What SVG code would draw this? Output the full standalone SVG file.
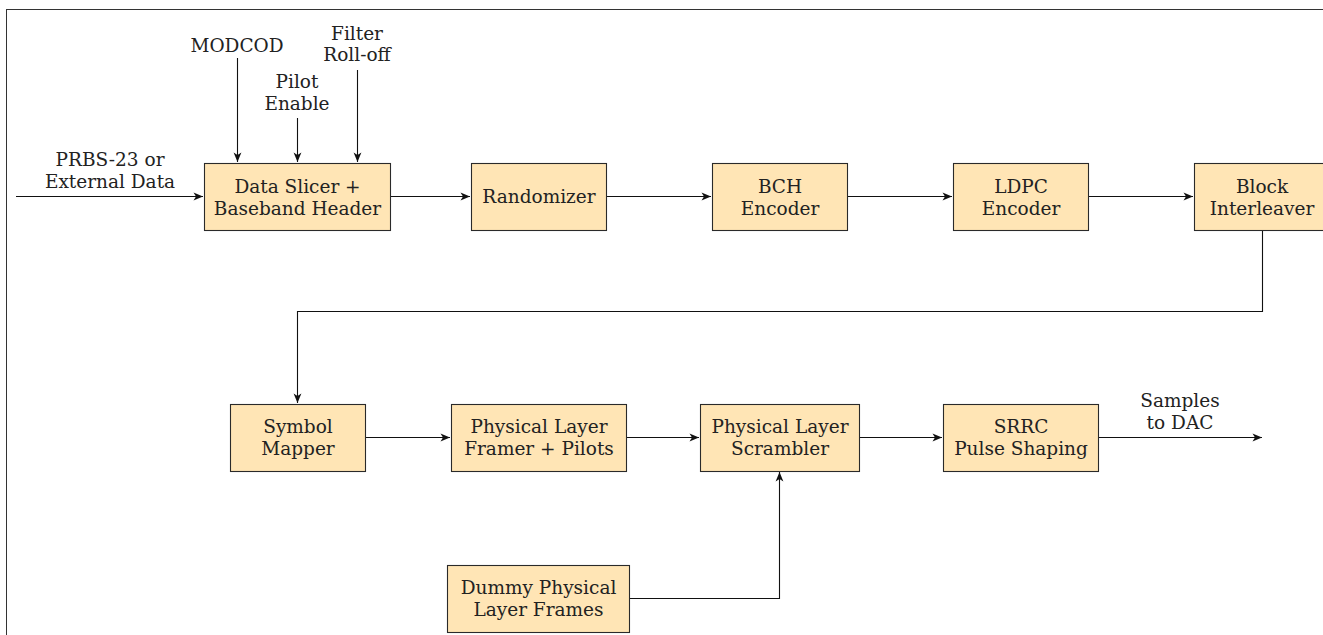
<svg xmlns="http://www.w3.org/2000/svg" width="1323" height="635" viewBox="0 0 1323 635">
<style>
.box{fill:#FFE5B5;stroke:#2a2a2a;stroke-width:1.1}
.t{font-family:"DejaVu Serif","Liberation Serif",serif;font-size:18.5px;fill:#222;text-anchor:middle}
.c{fill:none;stroke:#111;stroke-width:1.1}
</style>
<defs>
<marker id="ah" markerUnits="userSpaceOnUse" markerWidth="12" markerHeight="10" viewBox="-10 -5 12 10" refX="0" refY="0" orient="auto">
<path d="M-9.5,-3.9 L0,0 L-9.5,3.9 L-7,0 z" fill="#111"/>
</marker>
</defs>
<rect x="6.5" y="9.5" width="1330" height="640" fill="#fff" stroke="#333" stroke-width="1"/>
<g id="connectors">
<path class="c" d="M16,196.5 H203" marker-end="url(#ah)"/>
<path class="c" d="M237.5,58 V162" marker-end="url(#ah)"/>
<path class="c" d="M297.5,118 V162" marker-end="url(#ah)"/>
<path class="c" d="M357.5,70 V162" marker-end="url(#ah)"/>
<path class="c" d="M390,196.5 H470" marker-end="url(#ah)"/>
<path class="c" d="M606,196.5 H711" marker-end="url(#ah)"/>
<path class="c" d="M847,196.5 H952" marker-end="url(#ah)"/>
<path class="c" d="M1088,196.5 H1193" marker-end="url(#ah)"/>
<path class="c" d="M1262.5,230 V311.5 H297.5 V403" marker-end="url(#ah)"/>
<path class="c" d="M365,437.5 H450" marker-end="url(#ah)"/>
<path class="c" d="M626,437.5 H699" marker-end="url(#ah)"/>
<path class="c" d="M859,437.5 H942" marker-end="url(#ah)"/>
<path class="c" d="M1098,437.5 H1262" marker-end="url(#ah)"/>
<path class="c" d="M629,598.5 H779.5 V472" marker-end="url(#ah)"/>
</g>
<g id="labels">
<text class="t" x="110" y="166">PRBS-23 or</text>
<text class="t" x="110" y="188">External Data</text>
<text class="t" x="237" y="52">MODCOD</text>
<text class="t" x="297" y="88">Pilot</text>
<text class="t" x="297" y="110">Enable</text>
<text class="t" x="357" y="40">Filter</text>
<text class="t" x="357" y="61">Roll-off</text>
<text class="t" x="1180" y="407">Samples</text>
<text class="t" x="1180" y="429">to DAC</text>
</g>
<g id="n-slicer">
<rect class="box" x="204.5" y="163.5" width="186" height="67"/>
<text class="t" x="297.5" y="192.5">Data Slicer +</text>
<text class="t" x="297.5" y="215">Baseband Header</text>
</g>
<g id="n-randomizer">
<rect class="box" x="471.5" y="163.5" width="135" height="67"/>
<text class="t" x="539" y="203">Randomizer</text>
</g>
<g id="n-bch">
<rect class="box" x="712.5" y="163.5" width="135" height="67"/>
<text class="t" x="780" y="192.5">BCH</text>
<text class="t" x="780" y="215">Encoder</text>
</g>
<g id="n-ldpc">
<rect class="box" x="953.5" y="163.5" width="135" height="67"/>
<text class="t" x="1021" y="192.5">LDPC</text>
<text class="t" x="1021" y="215">Encoder</text>
</g>
<g id="n-interleaver">
<rect class="box" x="1194.5" y="163.5" width="136" height="67"/>
<text class="t" x="1262" y="192.5">Block</text>
<text class="t" x="1262" y="215">Interleaver</text>
</g>
<g id="n-mapper">
<rect class="box" x="230.5" y="404.5" width="135" height="67"/>
<text class="t" x="298" y="432.5">Symbol</text>
<text class="t" x="298" y="455">Mapper</text>
</g>
<g id="n-framer">
<rect class="box" x="451.5" y="404.5" width="175" height="67"/>
<text class="t" x="539" y="432.5">Physical Layer</text>
<text class="t" x="539" y="455">Framer + Pilots</text>
</g>
<g id="n-scrambler">
<rect class="box" x="700.5" y="404.5" width="159" height="67"/>
<text class="t" x="780" y="432.5">Physical Layer</text>
<text class="t" x="780" y="455">Scrambler</text>
</g>
<g id="n-srrc">
<rect class="box" x="943.5" y="404.5" width="155" height="67"/>
<text class="t" x="1021" y="432.5">SRRC</text>
<text class="t" x="1021" y="455">Pulse Shaping</text>
</g>
<g id="n-dummy">
<rect class="box" x="447.5" y="565.5" width="182" height="67"/>
<text class="t" x="538.5" y="593.5">Dummy Physical</text>
<text class="t" x="538.5" y="616">Layer Frames</text>
</g>
</svg>
